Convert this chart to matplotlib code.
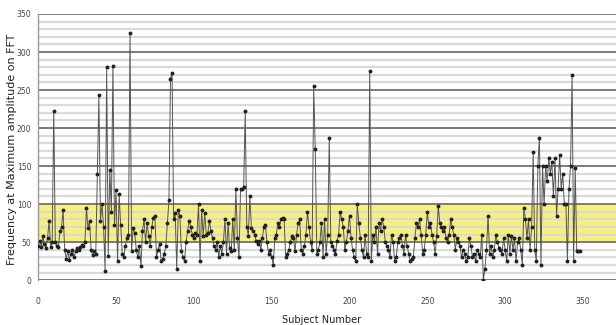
import matplotlib
matplotlib.use('Agg')
import matplotlib.pyplot as plt
import numpy as np

# frequency at max FFT amplitude, per subject
freq = [
    45, 52, 44, 58, 47, 42, 55, 78, 44, 50,
    222, 50, 45, 43, 65, 70, 92, 40, 28, 38,
    27, 35, 40, 30, 38, 42, 40, 44, 46, 45,
    50, 95, 68, 78, 40, 33, 38, 35, 140, 243,
    78, 100, 70, 12, 280, 32, 145, 90, 282, 72,
    118, 25, 113, 72, 35, 30, 45, 55, 60, 325,
    38, 68, 62, 40, 30, 45, 18, 65, 80, 50,
    75, 58, 45, 70, 82, 84, 30, 40, 48, 25,
    28, 35, 45, 75, 105, 265, 273, 80, 88, 15,
    92, 85, 38, 30, 25, 50, 65, 78, 70, 60,
    55, 62, 60, 100, 25, 92, 58, 88, 60, 62,
    78, 65, 55, 45, 40, 50, 30, 45, 35, 50,
    80, 35, 75, 42, 38, 80, 40, 120, 55, 30,
    120, 120, 122, 222, 70, 58, 110, 68, 65, 60,
    52, 48, 52, 40, 55, 70, 72, 50, 35, 40,
    30, 20, 55, 60, 75, 70, 80, 82, 80, 30,
    35, 40, 50, 58, 55, 38, 60, 75, 80, 40,
    35, 45, 60, 90, 70, 50, 40, 255, 172, 35,
    40, 50, 75, 30, 80, 35, 60, 187, 50, 45,
    40, 35, 52, 60, 90, 80, 70, 40, 50, 65,
    85, 55, 40, 30, 25, 100, 75, 55, 40, 30,
    60, 35, 30, 275, 25, 60, 50, 70, 35, 75,
    65, 80, 70, 50, 45, 40, 30, 60, 50, 25,
    30, 50, 55, 60, 45, 35, 60, 45, 35, 25,
    28, 30, 55, 75, 70, 80, 60, 35, 40, 60,
    90, 70, 75, 60, 50, 35, 58, 98, 75, 70,
    65, 70, 55, 50, 60, 80, 70, 60, 40, 55,
    50, 45, 30, 40, 35, 25, 30, 55, 45, 30,
    35, 25, 40, 35, 30, 60, 0, 15, 40, 85,
    35, 45, 30, 40, 60, 50, 42, 40, 35, 55,
    40, 25, 60, 35, 58, 40, 55, 25, 50, 55,
    40, 20, 95, 80, 55, 80, 40, 70, 168, 40,
    25, 150, 187, 20, 150, 100, 150, 130, 160, 140,
    155, 110, 160, 85, 120, 165, 120, 140, 100, 100,
    25, 120, 150, 270, 25, 148, 38, 38, 38,
]
subjects = np.arange(len(freq))

band_low, band_high = 50, 100
x_ticks = [0, 50, 100, 150, 200, 250, 300, 350]
y_ticks = [0, 50, 100, 150, 200, 250, 300, 350]

fig = plt.figure(figsize=(6.16, 3.25), dpi=100)
ax = fig.add_axes([0.062, 0.138, 0.94, 0.819])

# yellow normal band
ax.axhspan(band_low, band_high, color='#f7f07c', zorder=0)

# light gridlines every 10, darker every 50
for y in range(0, 351, 10):
    if y % 50 == 0:
        ax.axhline(y, color='#7a7a7a', lw=1.4, zorder=1)
    else:
        ax.axhline(y, color='#dadada', lw=1.6, zorder=1)

ax.plot(subjects, freq, color='#555555', lw=0.7, zorder=3)
ax.plot(subjects, freq, 'o', color='#222222', ms=1.8, zorder=4)

ax.set_xlim(0, 372)
ax.set_ylim(0, 350)
ax.set_xticks(x_ticks)
ax.set_yticks(y_ticks)
ax.tick_params(axis='y', length=0, labelsize=5.5, colors='#444444', pad=5)
ax.tick_params(axis='x', length=0, labelsize=5.5, colors='#444444', pad=12)

for s in ['top', 'right', 'bottom']:
    ax.spines[s].set_visible(False)
ax.spines['left'].set_color('#999999')
ax.spines['left'].set_linewidth(1.0)

ax.set_xlabel('Subject Number', fontsize=7, color='#222222')
ax.xaxis.set_label_coords(0.49, -0.13)
ax.set_ylabel('Frequency at Maximum amplitude on FFT', fontsize=8, color='#222222')
ax.yaxis.set_label_coords(-0.036, 0.49)

fig.savefig('out.png', dpi=100)
